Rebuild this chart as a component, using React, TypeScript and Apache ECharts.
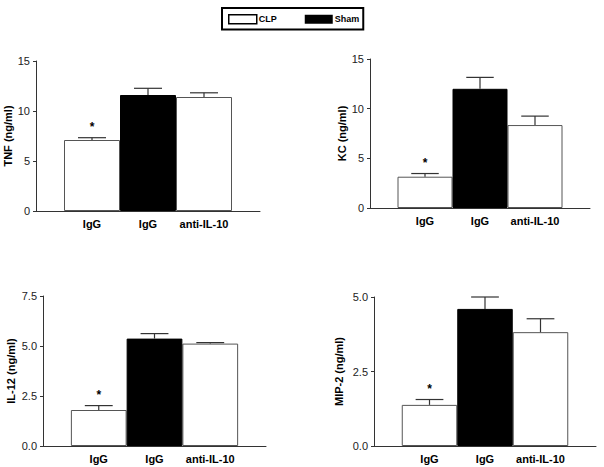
import { useEffect, useRef } from 'react';
import * as echarts from 'echarts';

// ---- data ----
const categories = ['IgG', 'IgG', 'anti-IL-10'];
const groups = ['CLP', 'Sham', 'CLP'];
const significant = [true, false, false];

const tnfMean = [7.1, 11.6, 11.4];
const tnfErr = [0.23, 0.67, 0.42];
const kcMean = [3.15, 12.0, 8.35];
const kcErr = [0.32, 1.15, 0.9];
const il12Mean = [1.8, 5.37, 5.12];
const il12Err = [0.22, 0.25, 0.05];
const mip2Mean = [1.38, 4.6, 3.82];
const mip2Err = [0.18, 0.4, 0.45];

const yNames = ['TNF (ng/ml)', 'KC (ng/ml)', 'IL-12 (ng/ml)', 'MIP-2 (ng/ml)'];
const yMax = [15, 15, 7.5, 5];
const yInterval = [5, 5, 2.5, 2.5];
const yDecimals = [0, 0, 1, 1];
const legendNames = ['CLP', 'Sham'];

const means = [tnfMean, kcMean, il12Mean, mip2Mean];
const errs = [tnfErr, kcErr, il12Err, mip2Err];

// ---- layout (pixels) ----
const grids = [
  { left: 36, top: 61, width: 224, height: 150, nameGap: 22 },
  { left: 370, top: 59, width: 220, height: 149, nameGap: 22 },
  { left: 43, top: 296, width: 223, height: 150, nameGap: 27 },
  { left: 374, top: 297, width: 222, height: 149, nameGap: 30 },
];

const FONT = '"Liberation Sans", Arial, Helvetica, sans-serif';
const LINE = '#333';

function buildOption() {
  const xAxis: any[] = [];
  const yAxis: any[] = [];
  const series: any[] = [];
  grids.forEach((g, p) => {
    xAxis.push({
      type: 'value',
      gridIndex: p,
      min: 0,
      max: categories.length + 1,
      interval: 1,
      axisLine: { show: true, lineStyle: { color: LINE, width: 1 } },
      axisTick: { show: false },
      splitLine: { show: false },
      axisLabel: {
        margin: 7,
        fontFamily: FONT,
        fontSize: 11,
        fontWeight: 'bold',
        color: '#000',
        formatter: (v: number) => categories[v - 1] ?? '',
      },
    });
    yAxis.push({
      type: 'value',
      gridIndex: p,
      min: 0,
      max: yMax[p],
      interval: yInterval[p],
      name: yNames[p],
      nameLocation: 'middle',
      nameRotate: 90,
      nameGap: g.nameGap,
      nameTextStyle: { fontFamily: FONT, fontSize: 11, fontWeight: 'bold', color: '#000' },
      axisLine: { show: true, lineStyle: { color: LINE, width: 1 } },
      axisTick: { show: true, length: 3, lineStyle: { color: LINE } },
      splitLine: { show: false },
      axisLabel: {
        margin: 6,
        fontFamily: FONT,
        fontSize: 11,
        color: '#222',
        formatter: (v: number) => v.toFixed(yDecimals[p]),
      },
    });
    const bw = g.width / (categories.length + 1);
    legendNames.forEach((name) => {
      const data = categories
        .map((_, i) => (groups[i] === name ? [i + 1, means[p][i]] : null))
        .filter((d) => d !== null);
      series.push({
        type: 'bar',
        name,
        xAxisIndex: p,
        yAxisIndex: p,
        barWidth: bw,
        barGap: '-100%',
        data,
        itemStyle:
          name === 'CLP'
            ? { color: '#fff', borderColor: '#555', borderWidth: 1 }
            : { color: '#000', borderColor: '#000', borderWidth: 1 },
        emphasis: { disabled: true },
      });
    });
    series.push({
      type: 'custom',
      name: 'err' + p,
      xAxisIndex: p,
      yAxisIndex: p,
      z: 5,
      data: categories.map((_, i) => [i + 1, means[p][i], errs[p][i], significant[i] ? 1 : 0]),
      renderItem: (params: any, api: any) => {
        const x = api.value(0);
        const m = api.value(1);
        const e = api.value(2);
        const sig = api.value(3);
        const base = api.coord([x, m]);
        const top = api.coord([x, m + e]);
        const half = api.size([1, 0])[0] / 4;
        const children: any[] = [
          {
            type: 'line',
            shape: { x1: base[0], y1: base[1], x2: top[0], y2: top[1] },
            style: { stroke: LINE, lineWidth: 1.2 },
          },
          {
            type: 'line',
            shape: { x1: top[0] - half, y1: top[1], x2: top[0] + half, y2: top[1] },
            style: { stroke: LINE, lineWidth: 1.2 },
          },
        ];
        if (sig) {
          children.push({
            type: 'text',
            x: top[0],
            y: top[1] - 11,
            style: {
              text: '*',
              fontFamily: FONT,
              fontSize: 12,
              fontWeight: 'bold',
              fill: '#000',
              align: 'center',
              verticalAlign: 'middle',
            },
          });
        }
        return { type: 'group', children };
      },
    });
  });

  return {
    animation: false,
    backgroundColor: '#fff',
    legend: {
      left: 222,
      top: 8,
      padding: [6, 4, 5, 6],
      borderColor: '#000',
      borderWidth: 2,
      itemWidth: 28,
      itemHeight: 9,
      itemGap: 28,
      selectedMode: false,
      textStyle: { fontFamily: FONT, fontSize: 9, fontWeight: 'bold', color: '#000', padding: [0, 0, 0, -3] },
      data: [
        { name: 'CLP', icon: 'rect', itemStyle: { color: '#fff', borderColor: '#000', borderWidth: 1.5 } },
        { name: 'Sham', icon: 'rect', itemStyle: { color: '#000', borderColor: '#000', borderWidth: 0 } },
      ],
    },
    grid: grids.map((g) => ({ left: g.left, top: g.top, width: g.width, height: g.height })),
    xAxis,
    yAxis,
    series,
  };
}

export default function App() {
  const ref = useRef<HTMLDivElement>(null);
  useEffect(() => {
    document.body.style.margin = '0';
    const chart = echarts.init(ref.current!, null, { renderer: 'svg' });
    chart.setOption(buildOption() as any);
    return () => chart.dispose();
  }, []);
  return <div ref={ref} style={{ width: 604, height: 467, background: '#fff' }} />;
}
